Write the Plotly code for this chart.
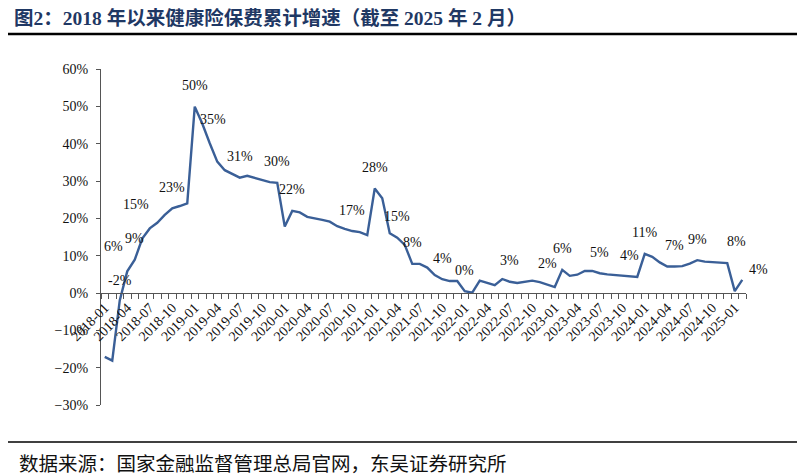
import plotly.graph_objects as go

# monthly categories 2018-01 .. 2025-02
months = [f"{y}-{m:02d}" for y in range(2018, 2026) for m in range(1, 13)][:86]

# cumulative premium growth of health insurance, %
growth = [
    -17.1, -18.1, -2.0, 5.8, 8.9, 14.6, 17.3, 18.8, 20.9, 22.7, 23.3, 24.0,
    49.9, 45.4, 40.1, 35.2, 32.9, 31.9, 30.9, 31.4, 30.9, 30.3, 29.7, 29.5,
    17.8, 22.0, 21.6, 20.4, 20.1, 19.6, 19.1, 17.9, 17.2, 16.6, 16.3, 15.5,
    28.0, 25.4, 16.0, 14.8, 12.9, 7.8, 7.8, 6.8, 4.8, 3.7, 3.2, 3.2,
    0.5, 0.1, 3.3, 2.8, 2.1, 3.75, 3.0, 2.7, 3.0, 3.3, 2.9, 2.2,
    1.6, 6.2, 4.6, 4.9, 5.9, 5.9, 5.3, 5.0, 4.8, 4.7, 4.4, 4.3,
    10.5, 9.7, 8.2, 7.1, 7.1, 7.2, 7.9, 8.8, 8.4, 8.3, 8.3, 8.0,
    0.5, 3.5,
]

# data labels: month index and text
label_idx = [3, 2, 4, 5, 9, 12, 15, 18, 23, 25, 33, 36, 39,
             41, 45, 48, 54, 59, 61, 66, 70, 72, 76, 79, 83, 85]
label_text = ["6%", "-2%", "9%", "15%", "23%", "50%", "35%", "31%", "30%",
              "22%", "17%", "28%", "15%", "8%", "4%", "0%", "3%", "2%",
              "6%", "5%", "4%", "11%", "7%", "9%", "8%", "4%"]

# per-label offsets in px (dx, dy up); default is straight above
offsets = {3: (-14, 25), 2: (0, 20), 5: (-6, 34), 15: (-4, 42),
           83: (9, 22), 85: (16, 10)}

tick_text = [m if i % 3 == 0 else "" for i, m in enumerate(months)]

# the page has an 8px body margin, so the figure is drawn 8px in
OFF = 8
W, H = 805 - OFF, 476 - OFF
L, R, T, B = 101 - OFF, 59, 69 - OFF, 71
PW, PH = W - L - R, H - T - B


def px(x):
    return (x - OFF - L) / PW


def py(y):
    return (H - B - (y - OFF)) / PH


serif = "Liberation Serif, Times New Roman, serif"
cjk = "Liberation Serif, Noto Sans CJK SC, sans-serif"

fig = go.Figure()
fig.add_trace(go.Scatter(
    x=months, y=growth, mode="lines",
    line=dict(color="#3A5F97", width=2.4),
    hoverinfo="x+y", showlegend=False,
))

annotations = []
for i, t in zip(label_idx, label_text):
    dx, dy = offsets.get(i, (0, 21))
    annotations.append(dict(
        x=months[i], y=growth[i], text=t, showarrow=False,
        xshift=dx, yshift=dy, font=dict(family=serif, size=14, color="#111"),
    ))

annotations.append(dict(
    xref="paper", yref="paper", x=px(17), y=py(462),
    xanchor="left", yanchor="middle", showarrow=False,
    text="数据来源：国家金融监督管理总局官网，东吴证券研究所",
    font=dict(family="Noto Sans CJK SC", size=19.5, color="#111"),
))

fig.update_layout(
    width=W, height=H,
    margin=dict(l=L, r=R, t=T, b=B),
    paper_bgcolor="white", plot_bgcolor="white",
    title=dict(
        text="<b>图2：2018 年以来健康险保费累计增速（截至 2025 年 2 月）</b>",
        xref="container", yref="container",
        x=(14 - OFF) / W, y=1 - (18 - OFF) / H, xanchor="left", yanchor="middle",
        font=dict(family=cjk, size=19.5, color="#1F3864"),
    ),
    annotations=annotations,
    shapes=[
        dict(type="line", xref="paper", yref="paper",
             x0=px(5), x1=px(800), y0=py(34), y1=py(34),
             line=dict(color="black", width=2.5)),
        dict(type="line", xref="paper", yref="paper",
             x0=px(5), x1=px(800), y0=py(442), y1=py(442),
             line=dict(color="black", width=1.5)),
    ],
    xaxis=dict(
        type="category", range=[-0.5, len(months) - 0.5],
        tickmode="array", tickvals=months, ticktext=tick_text,
        tickson="boundaries", ticks="outside", ticklen=5, tickcolor="#555",
        tickangle=-45, showline=True, linecolor="#555", linewidth=1.3,
        showgrid=False, anchor="free", position=30 / 90,
        tickfont=dict(family=serif, size=14, color="#111"),
    ),
    yaxis=dict(
        range=[-30, 60], dtick=10, ticksuffix="%", showgrid=False,
        zeroline=False, showline=True, linecolor="#555", linewidth=1.3,
        ticks="outside", ticklen=4, tickcolor="#555", ticklabelstandoff=5,
        tickfont=dict(family=serif, size=14, color="#111"),
    ),
)

fig.write_html("out.html")
